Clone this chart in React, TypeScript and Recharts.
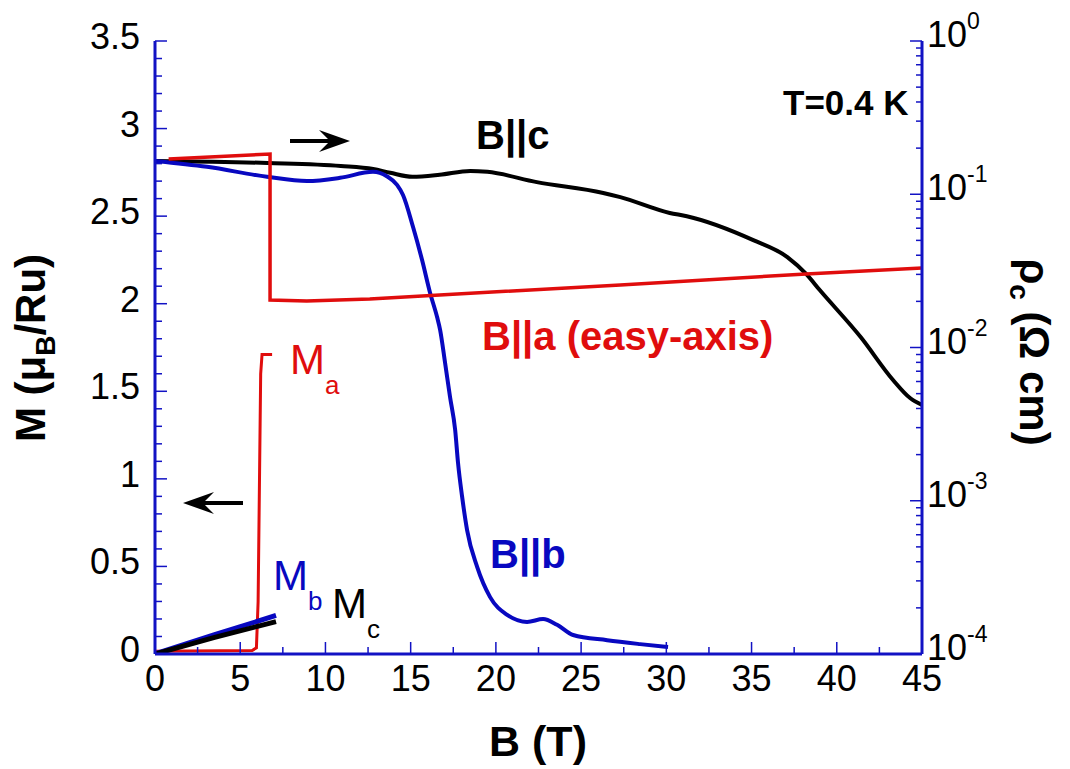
import React from 'react';
import { ComposedChart, Line, XAxis, YAxis } from 'recharts';

const AXIS_BLUE = '#1212c4';
const RED = '#e00d0d';
const BLUE = '#0808c0';
const BLACK = '#000000';
const FONT = '"Liberation Sans", Arial, Helvetica, sans-serif';

// ---- tick labels / tick positions ----
const xMajorTicks = [0, 5, 10, 15, 20, 25, 30, 35, 40, 45];
const xMinorTicks = [2.5, 7.5, 12.5, 17.5, 22.5, 27.5, 32.5, 37.5, 42.5];
const mMajorTicks = [0, 0.5, 1, 1.5, 2, 2.5, 3, 3.5];
const mMinorSteps = [0.1, 0.2, 0.3, 0.4];
const rhoDecades = [1e-4, 1e-3, 1e-2, 1e-1, 1];
const rhoMinorMult = [2, 3, 4, 5, 6, 7, 8, 9];

// ---- rho_c (B || c), right axis ----
const rhoC_B = [0, 6.6, 10.9, 12.8, 13.8, 15.1, 16.7, 18.5, 19.5, 22.4, 26.3, 27.3, 30.2, 31.2, 35.1, 37.1, 38.2, 39.0, 41.4, 43.3, 44.3, 45];
const rhoC_v = [0.165, 0.16, 0.153, 0.146, 0.138, 0.13, 0.134, 0.142, 0.14, 0.12, 0.102, 0.0957, 0.0755, 0.0719, 0.0502, 0.0389, 0.0302, 0.0237, 0.0117, 0.00614, 0.00468, 0.00422];

// ---- rho_b (B || b), right axis ----
const rhoB_B = [0, 3.05, 6.57, 8.92, 10.86, 12.79, 13.6, 14.2, 14.55, 15.14, 15.67, 16.14, 16.55, 16.73, 17.02, 17.31, 17.61, 17.78, 18.02, 18.31, 18.9, 19.66, 20.66, 21.83, 22.77, 23.59, 24.53, 26.53, 28.46, 30.1];
const rhoB_v = [0.165, 0.151, 0.13, 0.122, 0.128, 0.14, 0.131, 0.115, 0.0989, 0.0611, 0.0372, 0.0227, 0.0158, 0.013, 0.00792, 0.00475, 0.0029, 0.00176, 0.00106, 0.000644, 0.00037, 0.000235, 0.00018, 0.000162, 0.000169, 0.000155, 0.000133, 0.000123, 0.000116, 0.000111];

// ---- rho_a (B || a, easy axis), right axis ----
const rhoA_B = [0.8, 6.75, 6.75, 8.9, 12.6, 16.7, 27.3, 38.2, 45];
const rhoA_v = [0.17, 0.183, 0.0204, 0.0201, 0.0207, 0.022, 0.0256, 0.0302, 0.033];

// ---- magnetization, left axis ----
const Ma_B = [0, 5.7, 5.95, 6.05, 6.2, 6.28, 6.87];
const Ma_v = [0.015, 0.02, 0.035, 0.3, 1.6, 1.71, 1.71];
const Mb_B = [0, 3.5, 7.1];
const Mb_v = [0, 0.11, 0.22];
const Mc_B = [0, 3.5, 7.1];
const Mc_v = [0, 0.095, 0.185];

const zip = (bs: number[], vs: number[]) => bs.map((b, i) => ({ b, v: vs[i] }));
const rhoCData = zip(rhoC_B, rhoC_v);
const rhoBData = zip(rhoB_B, rhoB_v);
const rhoAData = zip(rhoA_B, rhoA_v);
const MaData = zip(Ma_B, Ma_v);
const MbData = zip(Mb_B, Mb_v);
const McData = zip(Mc_B, Mc_v);

const xTicks = [...xMajorTicks, ...xMinorTicks].sort((a, b) => a - b);
const mTicks: number[] = [];
mMajorTicks.forEach((m, i) => {
  mTicks.push(m);
  if (i < mMajorTicks.length - 1) mMinorSteps.forEach((s) => mTicks.push(Math.round((m + s) * 10) / 10));
});
const rhoTicks: number[] = [];
rhoDecades.forEach((d, i) => {
  rhoTicks.push(d);
  if (i < rhoDecades.length - 1) rhoMinorMult.forEach((k) => rhoTicks.push(d * k));
});

const isMult = (v: number, step: number) => Math.abs(v / step - Math.round(v / step)) < 1e-6;

const BottomTick = (props: any) => {
  const { x, y, payload } = props;
  const v = payload.value;
  const major = isMult(v, 5);
  return (
    <g>
      <line x1={x} x2={x} y1={y} y2={y - (major ? 12 : 7)} stroke={AXIS_BLUE} strokeWidth={1.5} />
      {major && (
        <text x={x} y={y + 37} textAnchor="middle" fontSize={36} fontFamily={FONT} fill="#000">
          {v}
        </text>
      )}
    </g>
  );
};

const TopTick = (props: any) => {
  const { x, y, payload } = props;
  const major = isMult(payload.value, 5);
  return <line x1={x} x2={x} y1={y} y2={y + (major ? 12 : 7)} stroke={AXIS_BLUE} strokeWidth={1.5} />;
};

const LeftTick = (props: any) => {
  const { x, y, payload } = props;
  const v = payload.value;
  const major = isMult(v, 0.5);
  return (
    <g>
      <line x1={x} x2={x + (major ? 12 : 7)} y1={y} y2={y} stroke={AXIS_BLUE} strokeWidth={1.5} />
      {major && (
        <text x={x - 15} y={y + 8} textAnchor="end" fontSize={36} fontFamily={FONT} fill="#000">
          {String(v)}
        </text>
      )}
    </g>
  );
};

const RightTick = (props: any) => {
  const { x, y, payload } = props;
  const v = payload.value;
  const lg = Math.log10(v);
  const major = Math.abs(lg - Math.round(lg)) < 1e-6;
  return (
    <g>
      <line x1={x} x2={x - (major ? 12 : 6)} y1={y} y2={y} stroke={AXIS_BLUE} strokeWidth={1.5} />
      {major && (
        <text x={x + 5} y={y + 6} fontSize={36} fontFamily={FONT} fill="#000">
          10
          <tspan fontSize={23} dy={-18}>
            {String(Math.round(lg))}
          </tspan>
        </text>
      )}
    </g>
  );
};

const Overlay = () => (
  <svg
    width={1062}
    height={761}
    style={{ position: 'absolute', left: 0, top: 0, pointerEvents: 'none' }}
    fontFamily={FONT}
  >
    {/* axis titles */}
    <text x={530} y={748} textAnchor="middle" fontSize={43} fontWeight="bold" fill="#000">
      B (T)
    </text>
    <g transform="translate(37,340) rotate(-90)">
      <text x={0} y={0} textAnchor="middle" fontSize={42} fontWeight="bold" fill="#000">
        M (μ<tspan fontSize={28} dy={10}>B</tspan>
        <tspan dy={-10}>/Ru)</tspan>
      </text>
    </g>
    <g transform="translate(1012,344) rotate(90)">
      <text x={0} y={0} textAnchor="middle" fontSize={42} fontWeight="bold" fill="#000">
        ρ<tspan fontSize={28} dy={10}>c</tspan>
        <tspan dy={-10}> (Ω cm)</tspan>
      </text>
    </g>

    {/* annotations */}
    <text x={775} y={107} fontSize={35} fontWeight="bold" fill={BLACK}>T=0.4 K</text>
    <text x={468} y={141} fontSize={40} fontWeight="bold" fill={BLACK}>B||c</text>
    <text x={474} y={342} fontSize={40} fontWeight="bold" fill={RED}>B||a (easy-axis)</text>
    <text x={482} y={560} fontSize={40} fontWeight="bold" fill={BLUE}>B||b</text>

    <text x={282} y={366} fontSize={42} fill={RED}>
      M<tspan fontSize={26} dy={20}>a</tspan>
    </text>
    <text x={265} y={582} fontSize={42} fill={BLUE}>
      M<tspan fontSize={26} dy={20}>b</tspan>
    </text>
    <text x={324} y={610} fontSize={42} fill={BLACK}>
      M<tspan fontSize={26} dy={20}>c</tspan>
    </text>

    {/* arrows: right -> resistivity, left -> magnetization */}
    <line x1={282} y1={133} x2={330} y2={133} stroke="#000" strokeWidth={4} />
    <path d="M342,133 L311,122 L322,133 L311,144 Z" fill="#000" />
    <line x1={235} y1={495} x2={190} y2={495} stroke="#000" strokeWidth={4} />
    <path d="M175,495 L206,484 L195,495 L206,506 Z" fill="#000" />
  </svg>
);

export default function App() {
  return (
    <div style={{ position: 'relative', width: 1062, height: 761 }}>
      <ComposedChart width={1062} height={761} margin={{ top: 33, right: 48, bottom: 55, left: 47 }}>
        <XAxis
          xAxisId="b"
          dataKey="b"
          type="number"
          domain={[0, 45]}
          ticks={xTicks}
          interval={0}
          allowDataOverflow
          height={60}
          tickSize={0}
          tickMargin={0}
          tickLine={false}
          axisLine={{ stroke: AXIS_BLUE, strokeWidth: 3 }}
          tick={<BottomTick />}
        />
        <XAxis
          xAxisId="t"
          orientation="top"
          dataKey="b"
          type="number"
          domain={[0, 45]}
          ticks={xTicks}
          interval={0}
          allowDataOverflow
          height={0}
          tickSize={0}
          tickMargin={0}
          tickLine={false}
          axisLine={{ stroke: AXIS_BLUE, strokeWidth: 3 }}
          tick={<TopTick />}
        />
        <YAxis
          yAxisId="m"
          type="number"
          domain={[0, 3.5]}
          ticks={mTicks}
          interval={0}
          allowDataOverflow
          width={100}
          tickSize={0}
          tickMargin={0}
          tickLine={false}
          axisLine={{ stroke: AXIS_BLUE, strokeWidth: 3 }}
          tick={<LeftTick />}
        />
        <YAxis
          yAxisId="r"
          orientation="right"
          type="number"
          scale="log"
          domain={[1e-4, 1]}
          ticks={rhoTicks}
          interval={0}
          allowDataOverflow
          width={100}
          tickSize={0}
          tickMargin={0}
          tickLine={false}
          axisLine={{ stroke: AXIS_BLUE, strokeWidth: 3 }}
          tick={<RightTick />}
        />
        <Line xAxisId="b" yAxisId="r" data={rhoCData} dataKey="v" type="monotone" stroke={BLACK} strokeWidth={4} dot={false} isAnimationActive={false} />
        <Line xAxisId="b" yAxisId="r" data={rhoBData} dataKey="v" type="monotone" stroke={BLUE} strokeWidth={4} dot={false} isAnimationActive={false} />
        <Line xAxisId="b" yAxisId="r" data={rhoAData} dataKey="v" type="linear" stroke={RED} strokeWidth={3.5} dot={false} isAnimationActive={false} />
        <Line xAxisId="b" yAxisId="m" data={MaData} dataKey="v" type="linear" stroke={RED} strokeWidth={3} dot={false} isAnimationActive={false} />
        <Line xAxisId="b" yAxisId="m" data={MbData} dataKey="v" type="linear" stroke={BLUE} strokeWidth={5} dot={false} isAnimationActive={false} />
        <Line xAxisId="b" yAxisId="m" data={McData} dataKey="v" type="linear" stroke={BLACK} strokeWidth={5} dot={false} isAnimationActive={false} />
      </ComposedChart>
      <Overlay />
    </div>
  );
}
